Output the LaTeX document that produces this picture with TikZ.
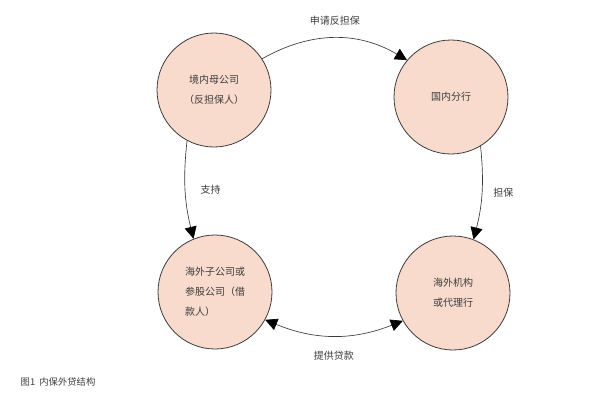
\documentclass[tikz,border=0pt]{standalone}
\usepackage{fontspec}
\setmainfont{Noto Sans CJK SC}
\usetikzlibrary{arrows.meta}
\definecolor{peach}{RGB}{249,219,206}
\definecolor{inkgray}{RGB}{60,60,60}
\tikzset{
  party/.style={circle, draw=inkgray, line width=0.6pt, fill=peach, minimum size=85.5pt, inner sep=0pt, text=inkgray, font=\fontsize{7.5pt}{15pt}\selectfont, align=center},
  tip/.style={Triangle[length=9pt, width=9pt, color=black]},
  flow/.style={draw=inkgray, line width=0.5pt, -{Triangle[length=9pt, width=9pt, color=black]}},
  tag/.style={text=inkgray, font=\fontsize{7.5pt}{9pt}\selectfont}
}
\begin{document}
\begin{tikzpicture}[x=0.75pt, y=-0.75pt]
\useasboundingbox (0,0) rectangle (600,404);

\node[party] (mom) at (214,90) {境内母公司\\（反担保人）};
\node[party] (branch) at (451,97) {国内分行};
\node[party, align=left] (sub) at (215,292) {海外子公司或\\参股公司（借\\款人）};
\node[party] (agent) at (453,293) {海外机构\\或代理行};

\draw[flow] (mom.33) to[bend left=30] node[tag, above=6pt] {申请反担保} (branch.140);
\draw[flow] (mom.242) to[bend right=10] node[tag, right=8pt] {支持} (sub.112);
\draw[flow] (branch.301) to[bend left=10] node[tag, right=5pt] {担保} (agent.69);
\draw[flow, {Triangle[length=9pt, width=9pt, color=black]}-{Triangle[length=9pt, width=9pt, color=black]}] (sub.331) to[bend right=22] node[tag, below=8pt] {提供贷款} (agent.209);

% caption
\node[tag, anchor=west, font=\fontsize{7pt}{8pt}\selectfont] (cap) at (16,382) {图1\ \ 内保外贷结构};
\end{tikzpicture}
\end{document}
